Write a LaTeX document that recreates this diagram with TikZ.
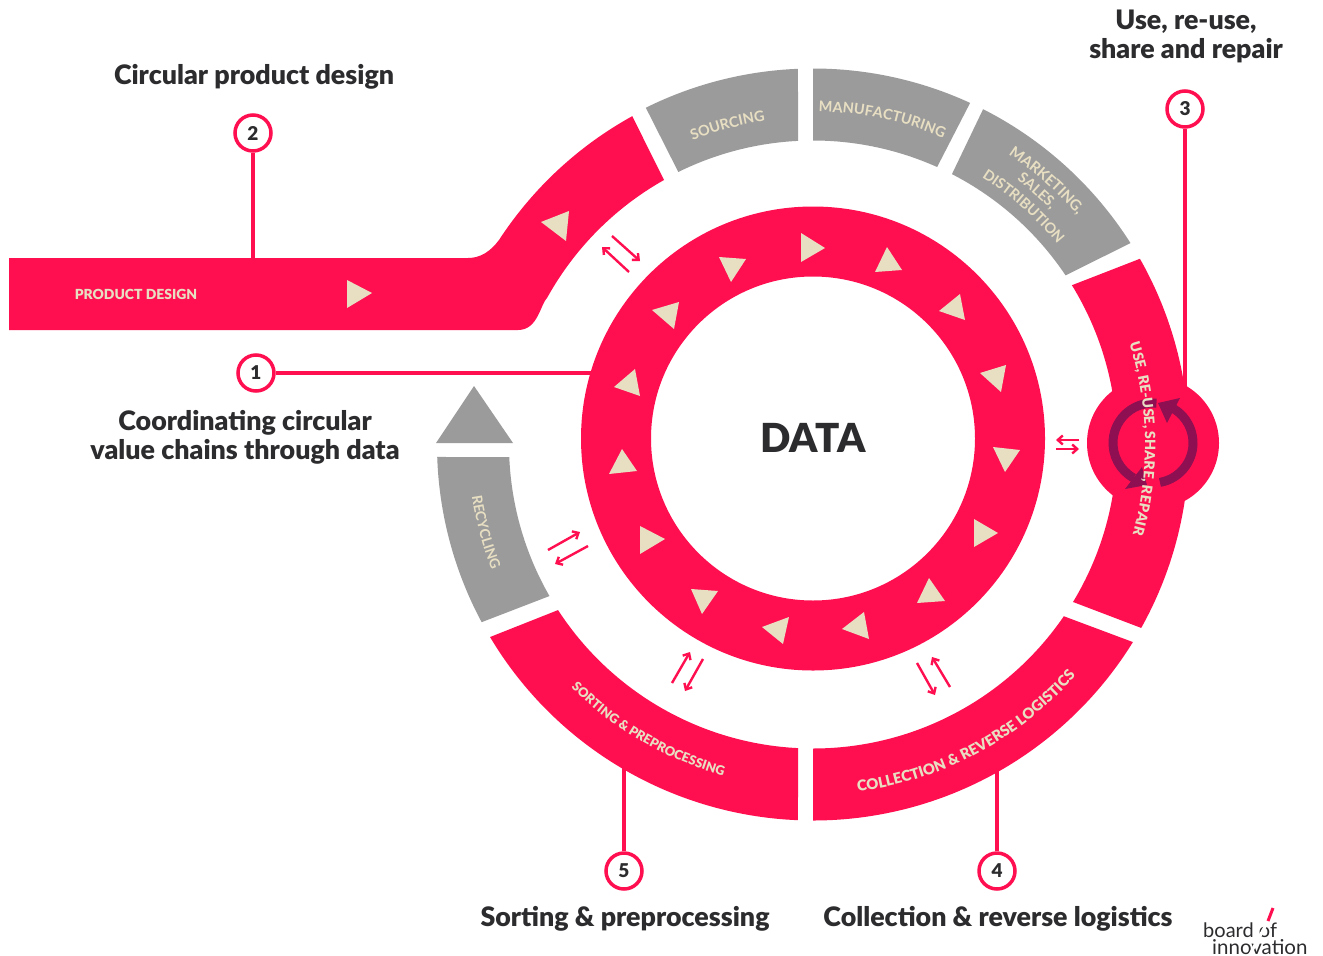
\documentclass[tikz,border=0pt]{standalone}
\usepackage{fontspec}
\setmainfont{Lato}
\newfontfamily\heavyf{Lato Black}
\usetikzlibrary{calc,arrows.meta,decorations.text}
\definecolor{rosso}{HTML}{FF0F50}
\definecolor{grigio}{HTML}{9B9B9B}
\definecolor{crema}{HTML}{E8DFC3}
\definecolor{inchiostro}{HTML}{2C2C2E}
\definecolor{viola}{HTML}{8E0F52}
\newcommand{\headfont}{\fontsize{26.8}{29}\selectfont\heavyf}
% visual angles (y up); outer a1->a2, inner b2->b1
\newcommand{\ringseg}[5]{%
  \fill[#1] ($(O)+(-#2:376)$) arc[start angle=-#2,end angle=-#3,radius=376]
    -- ($(O)+(-#5:304)$) arc[start angle=-#5,end angle=-#4,radius=304] -- cycle;}
% font, size, text, radius, start angle, end angle
\newcommand{\arctext}[6]{%
  \path[decorate,decoration={text along path,text align={center},
     text={|\fontsize{#2}{#2}\selectfont#1\color{crema}|#3}}]
     ($(O)+(-#5:#4)$) arc[start angle=-#5,end angle=-#6,radius=#4];}
% name, two arrows
\newcommand{\twoway}[9]{%
  \coordinate (#1a) at (#2,#3); \coordinate (#1b) at (#4,#5);
  \coordinate (#1c) at (#6,#7); \coordinate (#1d) at (#8,#9);
  \draw[pairarrow] (#1a) -- (#1b);
  \draw[pairarrow] (#1c) -- (#1d);}
\tikzset{
  leader/.style={draw=rosso,line width=3.5pt},
  numdot/.style={circle,draw=rosso,fill=white,line width=3.5pt,minimum size=36pt,inner sep=0pt,
     text=inchiostro,font=\fontsize{19}{19}\selectfont\heavyf},
  headline/.style={text=inchiostro,font=\headfont,align=center,inner sep=0pt},
  tri/.style={fill=crema},
  pairarrow/.style={draw=rosso,line width=2.4pt,-{Straight Barb[length=5pt,width=9pt,line width=2.4pt]}},
  turn/.style={draw=viola,line width=9pt},
  turnhead/.style={fill=viola}
}
\begin{document}
\begin{tikzpicture}[x=1pt,y=-1pt]
\useasboundingbox (0,0) rectangle (1323,956);
\fill[white] (0,0) rectangle (1323,956);
\coordinate (O) at (813,444.5);
\coordinate (I) at (813,438.5);

% central ring
\fill[rosso,even odd rule] (I) circle[radius=232] (I) circle[radius=162];

% leaders
\node[numdot] (n1) at (256,373) {1};
\node[numdot] (n2) at (253,133) {2};
\node[numdot] (n3) at (1185,109) {3};
\node[numdot] (n4) at (997,871) {4};
\node[numdot] (n5) at (624,871) {5};
\coordinate (e1) at (595,373);
\coordinate (e2) at (253,260);
\coordinate (e3) at (1185,392);
\coordinate (e4) at (997,770);
\coordinate (e5) at (624,768);
\draw[leader] (n1) -- (e1);
\draw[leader] (n2) -- (e2);
\draw[leader] (n3) -- (e3);
\draw[leader] (n4) -- (e4);
\draw[leader] (n5) -- (e5);

% outer segments
\ringseg{grigio}{116.4}{92.3}{116.3}{92.8}
\ringseg{grigio}{90}{65.3}{90}{65.9}
\ringseg{grigio}{63.1}{32.4}{62.8}{33.8}
\ringseg{rosso}{29.6}{-29.2}{31.6}{-31.2}
\ringseg{rosso}{-31.7}{-90}{-34.4}{-90}
\ringseg{rosso}{-92.3}{-149.2}{-92.8}{-147}
\ringseg{grigio}{-178.1}{-151.8}{-177.6}{-150.1}
\fill[grigio] (474,386) -- (513,443) -- (436,443) -- cycle;

% product design band
\fill[rosso] (9,258) -- (468,258) .. controls (480,258) and (490,252) .. (499,240)
  arc[start angle=-146.9,end angle=-118.9,radius=376]
  -- (664,180)
  arc[start angle=-119.4,end angle=-151,radius=304]
  .. controls (540,305) and (538,330) .. (518,330) -- (9,330) -- cycle;

% hub
\fill[rosso] (1153,443) circle[radius=66];
\coordinate (H) at (1153,443);
\draw[turn] ($(H)+(80:40)$) arc[start angle=80,end angle=-59,radius=40];
\draw[turn] ($(H)+(-85:40)$) arc[start angle=-85,end angle=-241,radius=40];
\fill[turnhead] (1158,403) -- (1180,398) -- (1167,423) -- cycle;
\fill[turnhead] (1147,485) -- (1142,467) -- (1125,489) -- cycle;

% triangles
\fill[tri] (801,233) -- (825,248) -- (801,262) -- cycle;
\fill[tri] (887,247) -- (902,270) -- (875,272) -- cycle;
\fill[tri] (960,294) -- (965,320) -- (939,311) -- cycle;
\fill[tri] (1006,365) -- (1001,392) -- (980,373) -- cycle;
\fill[tri] (993,447) -- (1020,450) -- (1005,472) -- cycle;
\fill[tri] (974,519) -- (998,533) -- (974,547) -- cycle;
\fill[tri] (929,578) -- (945,601) -- (917,603) -- cycle;
\fill[tri] (864,612) -- (869,639) -- (842,629) -- cycle;
\fill[tri] (789,617) -- (783,644) -- (762,627) -- cycle;
\fill[tri] (691,589) -- (718,591) -- (702,614) -- cycle;
\fill[tri] (640,526) -- (665,539) -- (640,554) -- cycle;
\fill[tri] (622,449) -- (637,471) -- (609,474) -- cycle;
\fill[tri] (635,369) -- (640,396) -- (614,387) -- cycle;
\fill[tri] (679,302) -- (674,329) -- (652,310) -- cycle;
\fill[tri] (719,257) -- (746,259) -- (731,282) -- cycle;
\fill[tri] (569,211) -- (566,241) -- (541,222) -- cycle;
\fill[tri] (347,280) -- (372,293) -- (347,308) -- cycle;

% two-way arrows
\twoway{p}{629}{272}{602}{247}{612}{236}{640}{261}
\twoway{q}{1079}{440}{1056}{440}{1056}{449}{1079}{449}
\twoway{r}{548}{550}{580}{532}{588}{546}{555}{564}
\twoway{s}{672}{683}{690}{652}{703}{659}{685}{691}
\twoway{t}{950}{687}{932}{657}{917}{663}{935}{695}

% segment labels
\arctext{\bfseries}{14.5}{SOURCING}{327}{125}{85}
\arctext{\bfseries}{14.5}{MANUFACTURING}{333}{100}{56}
\arctext{\bfseries}{15}{MARKETING,}{350}{70}{27}
\arctext{\bfseries}{14.5}{SALES,}{334}{70}{27}
\arctext{\bfseries}{14.5}{DISTRIBUTION}{316}{70}{27}
\arctext{\heavyf}{14.2}{USE, RE-USE, SHARE, REPAIR}{332}{26}{-24}
\arctext{\heavyf}{14.8}{COLLECTION {\&} REVERSE LOGISTICS}{350}{-95}{-29}
\arctext{\heavyf}{12.9}{SORTING {\&} PREPROCESSING}{343}{-145}{-95}
\arctext{\bfseries}{14}{RECYCLING}{345}{-180}{-150}
\node[text=crema,font=\fontsize{13.9}{16}\selectfont\heavyf,inner sep=0pt] (pd) at (136,294) {PRODUCT DESIGN};

% headings
\node[inner sep=0pt,text=inchiostro,font=\fontsize{40}{40}\selectfont\heavyf] (data) at (813,438) {DATA};
\node[headline] (h1) at (245,437) {Coordinating circular\\value chains through data};
\node[headline] (h2) at (254,77) {Circular product design};
\node[headline] (h3) at (1186,36) {Use, re-use,\\share and repair};
\node[headline] (h4) at (998,919) {Collection \& reverse logistics};
\node[headline] (h5) at (625,919) {Sorting \& preprocessing};

% logo
\node[inner sep=0pt,text=inchiostro,font=\fontsize{20}{20}\selectfont,anchor=west] (logoa) at (1203,930) {board of};
\node[inner sep=0pt,text=inchiostro,font=\fontsize{20.5}{20}\selectfont,anchor=west] (logob) at (1212,947) {innovation};
\coordinate (la) at (1268,921);
\coordinate (lb) at (1273,908);
\coordinate (lc) at (1248,958);
\draw[white,line width=3pt] (la) -- (lc);
\draw[rosso,line width=3pt] (la) -- (lb);
\end{tikzpicture}
\end{document}
